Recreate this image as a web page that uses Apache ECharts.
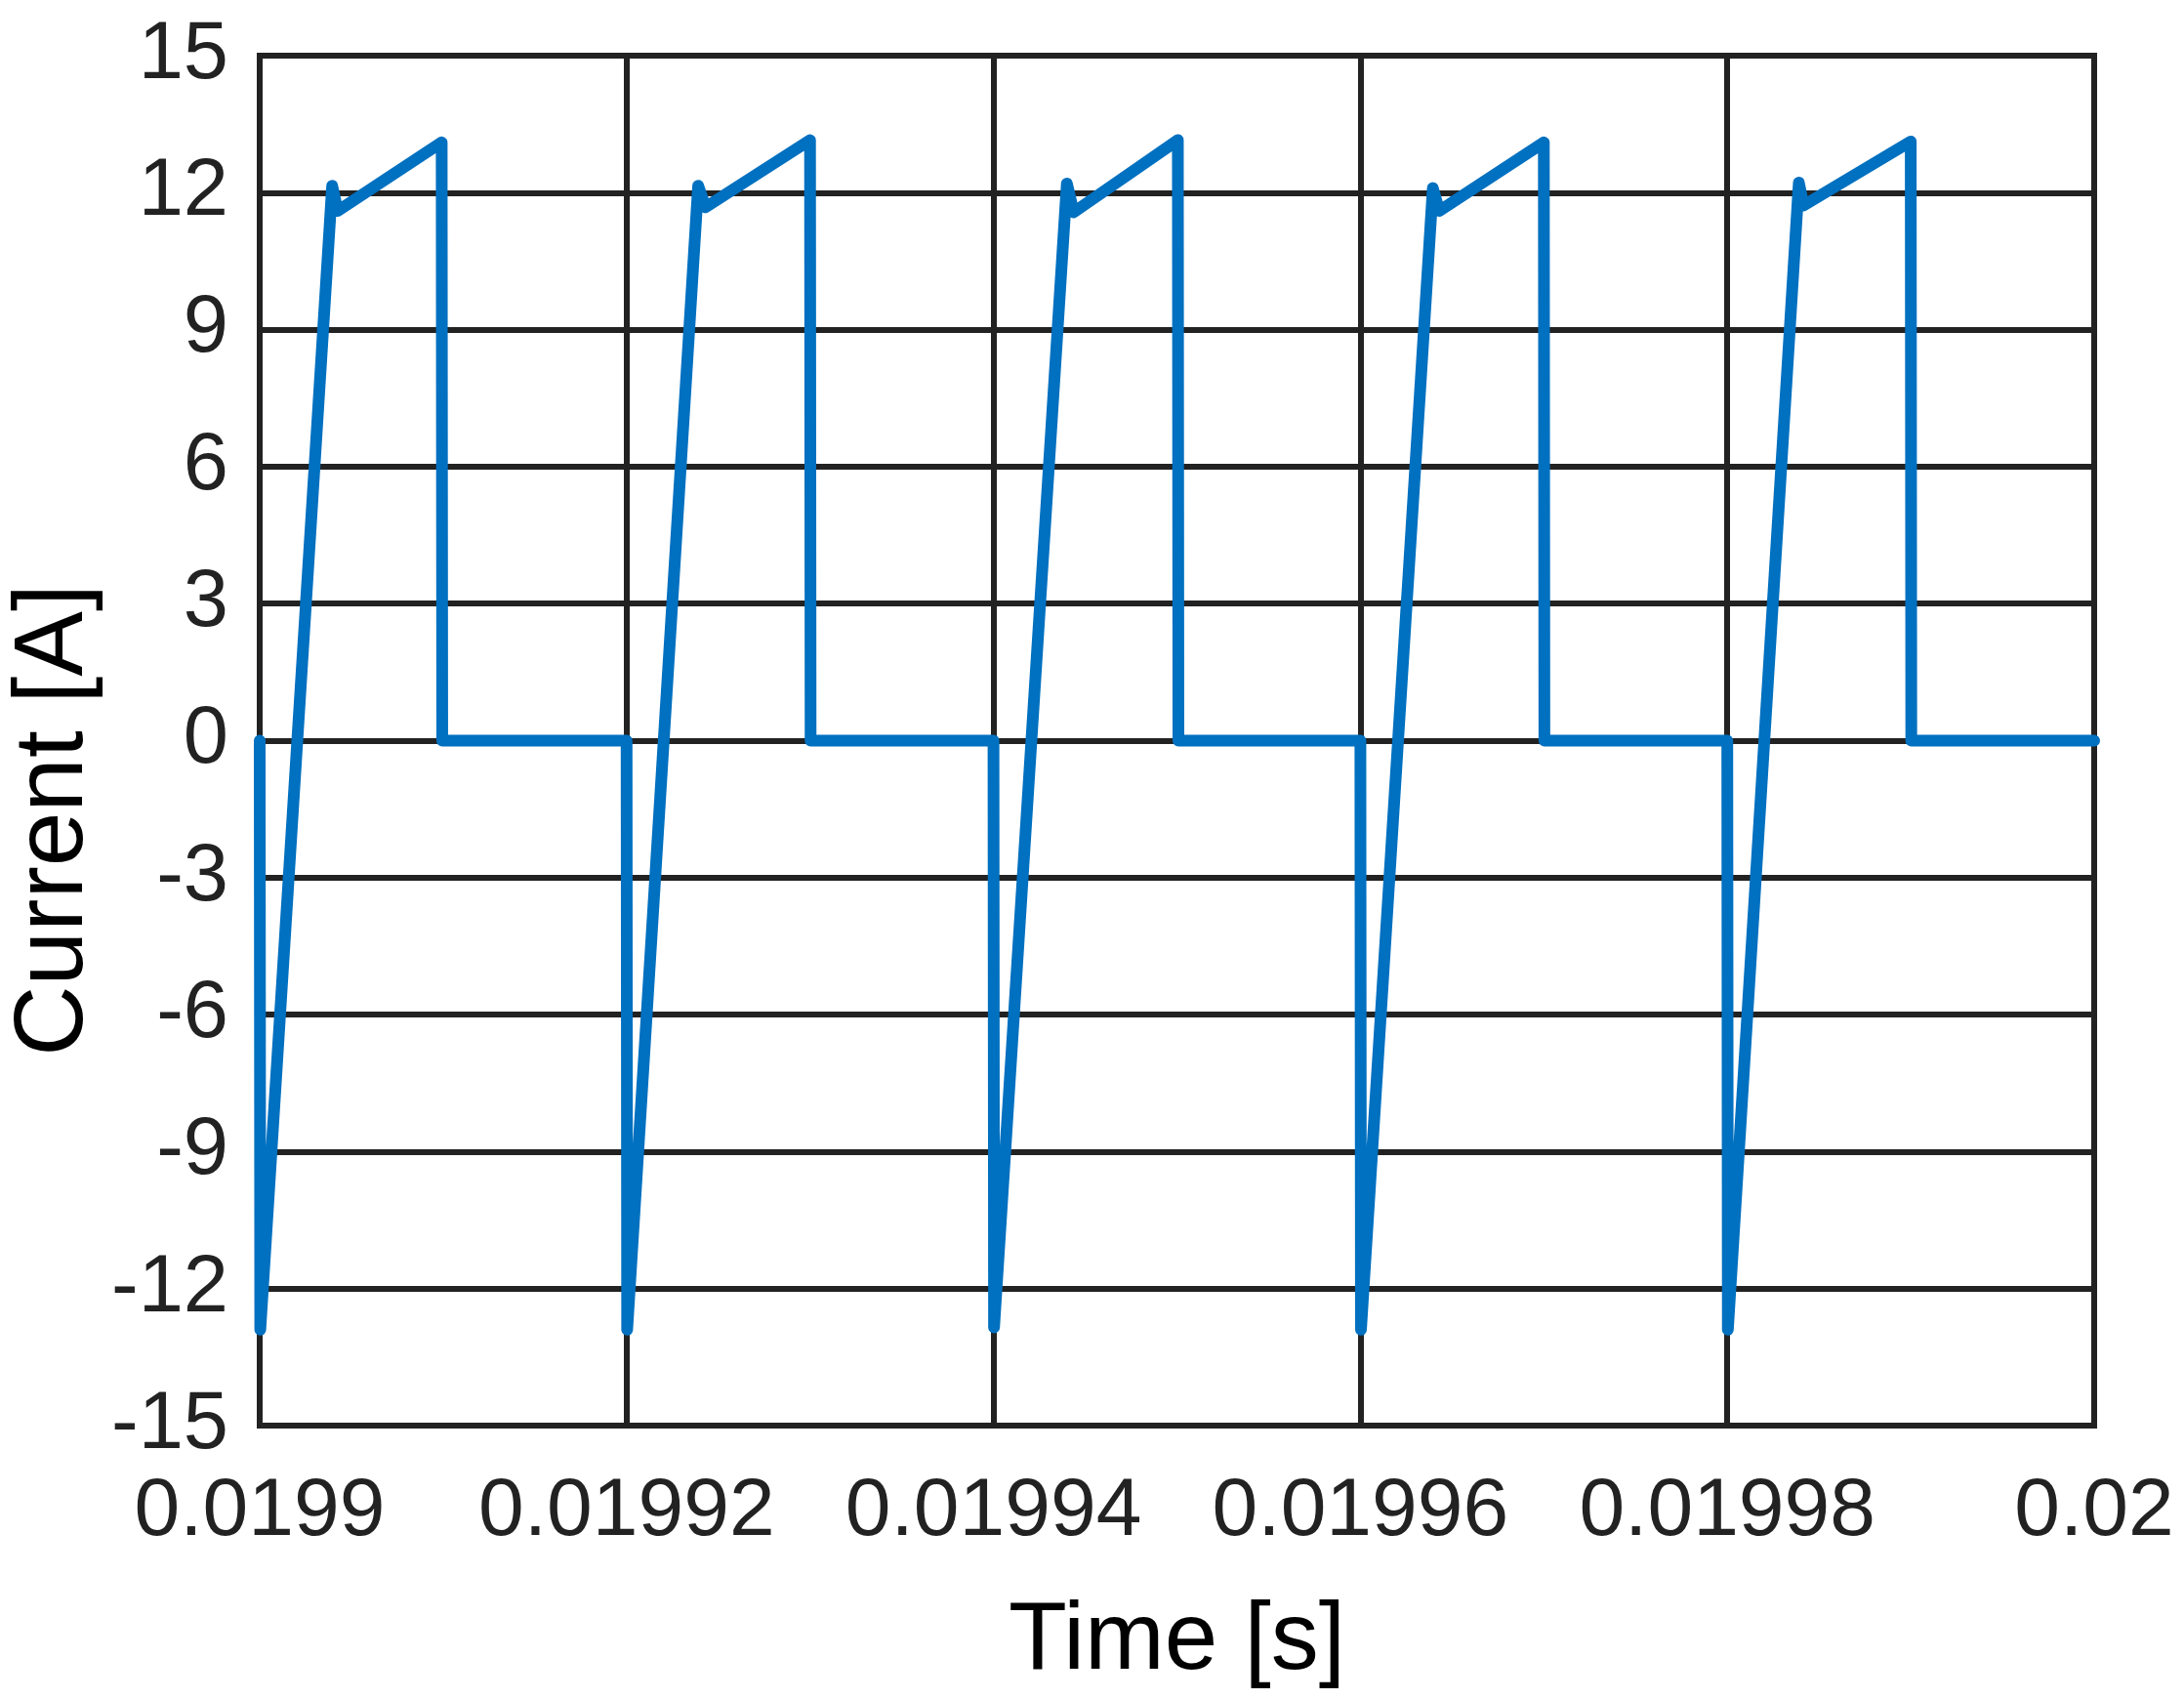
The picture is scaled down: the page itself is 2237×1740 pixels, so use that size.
<!DOCTYPE html>
<html>
<head>
<meta charset="utf-8">
<script src="https://cdn.jsdelivr.net/npm/echarts@6/dist/echarts.min.js"></script>
<style>
  html, body { margin: 0; padding: 0; background: #fff; }
  #main { width: 2237px; height: 1740px; }
</style>
</head>
<body>
<div id="main"></div>
<script>
// time samples [s] and current [A] (5 switching periods)
var timeValues = [
    0.0199, 0.01990003, 0.01990395, 0.01990425, 0.01990992, 0.01990995,
    0.01992, 0.01992003, 0.0199239, 0.0199243, 0.01993, 0.01993003,
    0.01994, 0.01994003, 0.019944, 0.01994437, 0.01995005, 0.01995008,
    0.01996, 0.01996003, 0.01996395, 0.0199643, 0.01997, 0.01997003,
    0.01998, 0.01998003, 0.0199839, 0.01998416, 0.01999, 0.01999003,
    0.02
];
var currentValues = [
    0, -12.9, 12.15, 11.6, 13.1, 0,
    0, -12.9, 12.15, 11.68, 13.15, 0,
    0, -12.85, 12.2, 11.57, 13.15, 0,
    0, -12.9, 12.1, 11.6, 13.1, 0,
    0, -12.9, 12.22, 11.72, 13.12, 0,
    0
];
var xTickLabels = ['0.0199', '0.01992', '0.01994', '0.01996', '0.01998', '0.02'];
var yTickLabels = ['-15', '-12', '-9', '-6', '-3', '0', '3', '6', '9', '12', '15'];

var xMin = 0.0199, xMax = 0.02, xStep = 0.00002;
var yMin = -15, yMax = 15, yStep = 3;

var points = [];
for (var i = 0; i < timeValues.length; i++) {
    points.push([timeValues[i], currentValues[i]]);
}

var gridColor = '#222';
var font = '"Liberation Sans", Arial, sans-serif';

var myChart = echarts.init(document.getElementById('main'));
var option = {
    animation: false,
    backgroundColor: '#fff',
    grid: {
        left: 266, right: 92, top: 57, bottom: 280,
        show: true,
        borderColor: gridColor,
        borderWidth: 6
    },
    xAxis: {
        type: 'value',
        min: xMin, max: xMax, interval: xStep,
        name: 'Time [s]',
        nameLocation: 'middle',
        nameGap: 173,
        nameTextStyle: { fontFamily: font, fontSize: 98, color: '#000' },
        axisLine: { show: true, lineStyle: { color: gridColor, width: 6 } },
        axisTick: { show: false },
        splitLine: { show: true, lineStyle: { color: gridColor, width: 6 } },
        axisLabel: {
            margin: 47,
            fontFamily: font, fontSize: 84, color: '#222',
            showMinLabel: true, showMaxLabel: true,
            formatter: function (v) {
                return xTickLabels[Math.round((v - xMin) / xStep)];
            }
        }
    },
    yAxis: {
        type: 'value',
        min: yMin, max: yMax, interval: yStep,
        axisLine: { show: true, lineStyle: { color: gridColor, width: 6 } },
        axisTick: { show: false },
        splitLine: { show: true, lineStyle: { color: gridColor, width: 6 } },
        axisLabel: {
            margin: 32,
            fontFamily: font, fontSize: 83, color: '#222',
            showMinLabel: true, showMaxLabel: true,
            formatter: function (v) {
                return yTickLabels[Math.round((v - yMin) / yStep)];
            }
        }
    },
    graphic: [{
        type: 'text',
        x: 56, y: 840,
        rotation: Math.PI / 2,
        style: {
            text: 'Current [A]',
            font: '100px "Liberation Sans", Arial, sans-serif',
            fill: '#000',
            align: 'center',
            verticalAlign: 'middle'
        }
    }],
    series: [{
        type: 'line',
        data: points,
        showSymbol: false,
        symbol: 'none',
        lineStyle: { color: '#0070C0', width: 12, cap: 'round', join: 'round' }
    }]
};
myChart.setOption(option);
</script>
</body>
</html>
